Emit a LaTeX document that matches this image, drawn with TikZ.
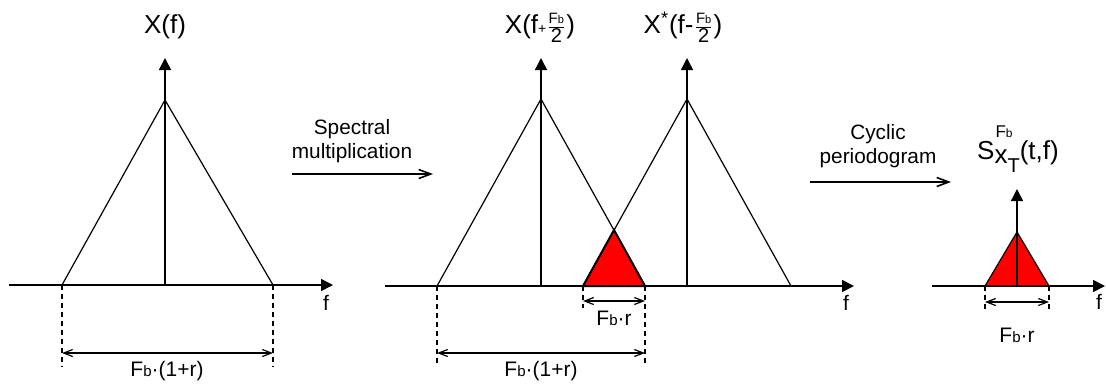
\documentclass[tikz,border=0pt]{standalone}
\usepackage{amsmath}
\usepackage{fontspec}
\setmainfont{Liberation Sans}
\usetikzlibrary{arrows.meta}

\newcommand{\Fsub}{F{\fontsize{7.5}{8}\selectfont b}}
\newcommand{\Fsup}{{\fontsize{8.5}{9}\selectfont F{\fontsize{6}{6}\selectfont b}}}
\newcommand{\Fhalf}{$\frac{\text{\fontsize{7.5}{8}\selectfont F{\fontsize{5.5}{6}\selectfont b}}}{\text{\fontsize{10}{10}\selectfont 2}}$}

\tikzset{
  axis/.style={line width=0.75pt, -{Triangle[length=6pt,width=6pt]}},
  spectrum/.style={line width=0.6pt},
  overlap/.style={fill=red, draw=black, line width=1pt, line join=miter},
  guide/.style={line width=0.6pt, dash pattern=on 2.5pt off 2pt},
  dimline/.style={line width=0.6pt, {Straight Barb[length=4.5pt,width=3.5pt]}-{Straight Barb[length=4.5pt,width=3.5pt]}},
  opstep/.style={line width=0.8pt, -{Straight Barb[length=6pt,width=4.5pt]}},
  optext/.style={font=\fontsize{10.4}{12}\selectfont, align=center},
  lab/.style={font=\fontsize{10.5}{12}\selectfont, inner sep=0pt},
  title/.style={font=\fontsize{13}{15}\selectfont, inner sep=0pt, anchor=base},
}

\begin{document}
\begin{tikzpicture}[x=0.5pt, y=-0.5pt]
  \useasboundingbox (0,0) rectangle (1106,388);

  % Spectre de depart
  \coordinate (p1L) at (62,285);
  \coordinate (p1T) at (165,100);
  \coordinate (p1R) at (273,285);
  \draw[axis] (9,285) -- (333,285);
  \draw[axis] (165,285) -- (165,58);
  \draw[spectrum] (p1L) -- (p1T) -- (p1R);
  \draw[guide] (p1L) -- (62,367);
  \draw[guide] (p1R) -- (273,367);
  \draw[dimline] (62,353) -- (273,353);
  \node[lab] (w1) at (167,371) {\Fsub·(1+r)};
  \node[lab] (f1) at (326,303) {f};
  \node[title] (t1) at (165,33) {X(f)};

  % Multiplication spectrale
  \coordinate (s1a) at (292,174);
  \coordinate (s1b) at (433,174);
  \draw[opstep] (s1a) -- (s1b);
  \node[optext] (op1) at (352,141) {Spectral\\multiplication};

  % Deux spectres decales
  \coordinate (p2L) at (437,286);
  \coordinate (p2T) at (541,99);
  \coordinate (p2R) at (645,286);
  \coordinate (p3L) at (583,286);
  \coordinate (p3T) at (687,99);
  \coordinate (p3R) at (791,286);
  \coordinate (p2X) at (614,230);
  \draw[axis] (385,286) -- (854,286);
  \draw[axis] (541,286) -- (541,58);
  \draw[axis] (687,286) -- (687,58);
  \draw[spectrum] (p2L) -- (p2T) -- (p2R);
  \draw[spectrum] (p3L) -- (p3T) -- (p3R);
  \draw[overlap] (p3L) -- (p2X) -- (p2R) -- cycle;
  \draw[guide] (p2L) -- (437,365);
  \draw[guide] (p2R) -- (645,365);
  \draw[guide] (p3L) -- (583,308);
  \draw[dimline] (583,301) -- (645,301);
  \draw[dimline] (437,353) -- (645,353);
  \node[lab] (w2) at (614,318) {\Fsub·r};
  \node[lab] (w3) at (541,371) {\Fsub·(1+r)};
  \node[lab] (f2) at (846,303) {f};
  \node[title] (t2) at (540,33) {X(f{\fontsize{7}{7}\selectfont +}\Fhalf)};
  \node[title] (t3) at (683,33) {X$^{\text{*}}$(f-\Fhalf)};

  % Periodogramme cyclique
  \coordinate (s2a) at (810,182);
  \coordinate (s2b) at (951,182);
  \draw[opstep] (s2a) -- (s2b);
  \node[optext] (op2) at (878,146) {Cyclic\\periodogram};

  % Resultat
  \coordinate (p4L) at (985,286);
  \coordinate (p4T) at (1017,232);
  \coordinate (p4R) at (1049,286);
  \draw[axis] (932,286) -- (1105,286);
  \filldraw[fill=red, draw=black, line width=0.6pt] (p4L) -- (p4T) -- (p4R) -- cycle;
  \draw[axis] (1017,286) -- (1017,189);
  \draw[guide] (p4L) -- (985,310);
  \draw[guide] (p4R) -- (1049,310);
  \draw[dimline] (985,302) -- (1049,302);
  \node[lab] (w4) at (1017,335) {\Fsub·r};
  \node[lab] (f3) at (1099,302) {f};
  \node[title] (t4) at (1018,159) {S\rlap{\hspace{0.5pt}\raisebox{11pt}{\Fsup}}\raisebox{-2pt}{x}\raisebox{-6.5pt}{\fontsize{10}{10}\selectfont T}(t,f)};
\end{tikzpicture}
\end{document}
